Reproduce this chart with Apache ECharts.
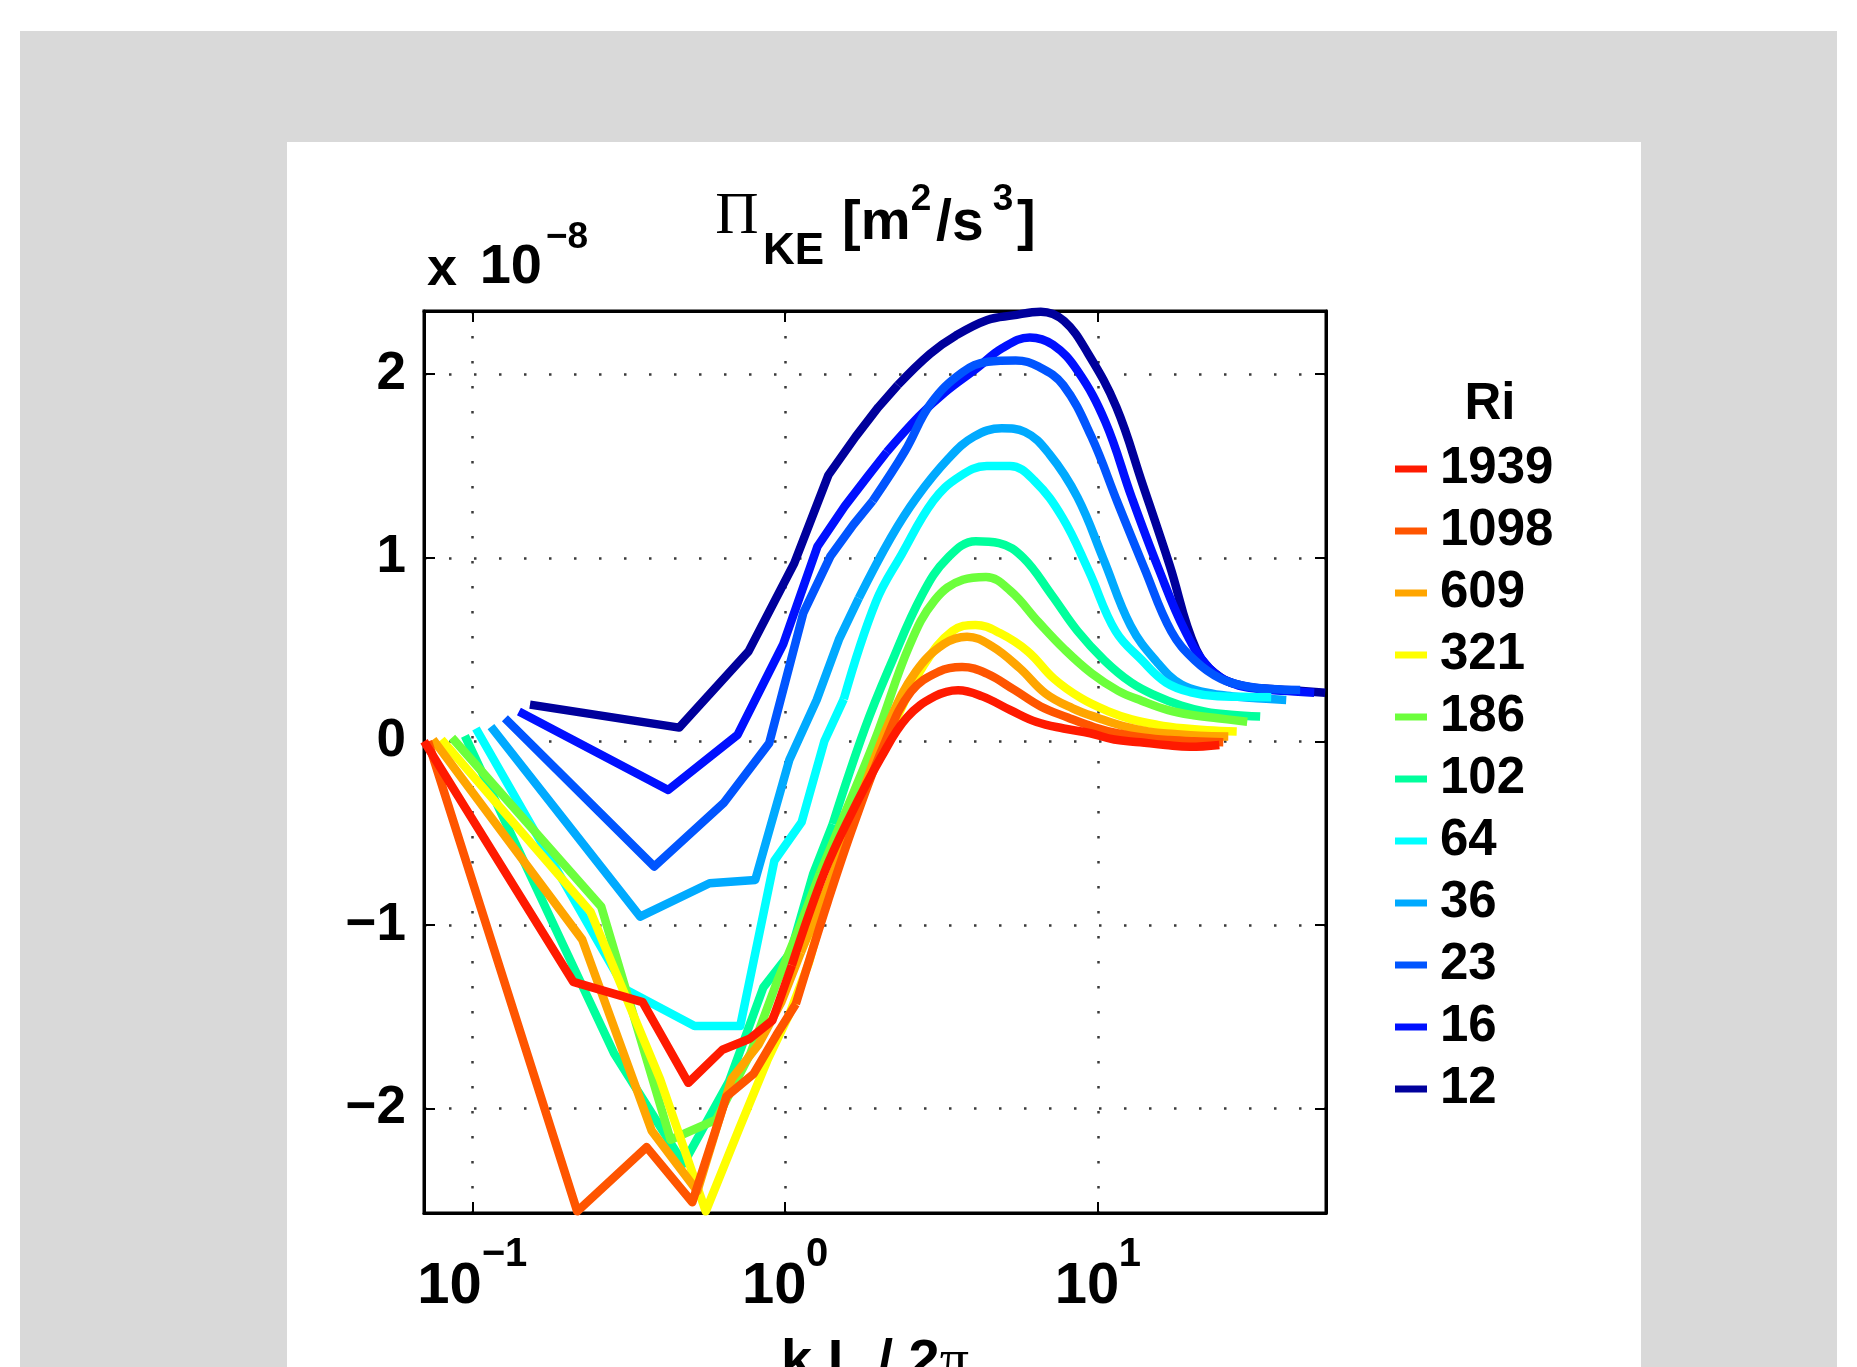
<!DOCTYPE html>
<html>
<head>
<meta charset="utf-8">
<script src="https://cdn.jsdelivr.net/npm/echarts@6/dist/echarts.min.js"></script>
<style>
  html, body { margin: 0; padding: 0; background: #fff; }
  #marco { position: absolute; left: 20px; top: 31px; width: 1817px; height: 1336px; background: #d9d9d9; }
  #hoja { position: absolute; left: 287px; top: 142px; width: 1354px; height: 1225px; background: #fff; }
  #grafica-pi-ke { position: absolute; left: 0; top: 0; width: 1857px; height: 1367px; }
</style>
</head>
<body>
<div id="marco"></div>
<div id="hoja"></div>
<div id="grafica-pi-ke"></div>
<script>
// Ri de cada corrida, en el orden de la leyenda
var etiquetasRi = ["1939", "1098", "609", "321", "186", "102", "64", "36", "23", "16", "12"];
var coloresRi = ["#ff1a00", "#ff5500", "#ffa500", "#ffff00", "#6cff3c", "#00ff9c",
                 "#00ffff", "#00aaff", "#0055ff", "#0010ff", "#00009c"];

// primer k L / 2pi de cada corrida y razones k / k1 comunes
var kInicial = [0.0700, 0.0721, 0.0748, 0.0796, 0.0860, 0.0946, 0.1026, 0.1146, 0.1270, 0.1408, 0.1527];
var razonK = [1, 3, 5, 7, 9, 11, 13, 15, 19, 23, 29, 35, 43, 51, 61, 75, 91, 111, 135, 161, 195, 235, 281, 349];

// Pi_KE en unidades de 1e-8 m^2/s^3
var pi1939 = [0, -1.31, -1.42, -1.86, -1.68, -1.62, -1.52, -1.22, -0.72, -0.41, -0.085, 0.13, 0.245, 0.278, 0.245, 0.17, 0.105, 0.07, 0.044, 0.01, -0.005, -0.02, -0.03, -0.02];
var pi1098 = [0, -2.56, -2.21, -2.51, -1.935, -1.81, -1.6, -1.43, -0.87, -0.45, 0.0, 0.27, 0.38, 0.405, 0.37, 0.28, 0.19, 0.13, 0.077, 0.043, 0.02, 0.007, 0.0, -0.005];
var pi609 = [0.01, -1.08, -2.12, -2.45, -1.84, -1.65, -1.42, -1.15, -0.72, -0.33, 0.12, 0.38, 0.53, 0.57, 0.52, 0.40, 0.26, 0.18, 0.125, 0.083, 0.053, 0.04, 0.03, 0.026];
var pi321 = [0.01, -0.93, -1.84, -2.56, -2.1, -1.74, -1.48, -1.2, -0.6, -0.22, 0.15, 0.42, 0.6, 0.634, 0.59, 0.49, 0.34, 0.235, 0.165, 0.12, 0.09, 0.071, 0.06, 0.053];
var pi186 = [0.02, -0.9, -2.17, -2.06, -1.7, -1.3, -1.0, -0.72, -0.3, 0.05, 0.52, 0.77, 0.88, 0.895, 0.82, 0.65, 0.5, 0.37, 0.275, 0.22, 0.17, 0.142, 0.126, 0.107];
var pi102 = [0.03, -1.7, -2.3, -1.85, -1.34, -1.15, -0.72, -0.45, 0.07, 0.42, 0.8, 1.0, 1.09, 1.08, 1.0, 0.8, 0.6, 0.44, 0.32, 0.25, 0.195, 0.16, 0.145, 0.135];
var pi64 = [0.07, -1.35, -1.55, -1.55, -0.65, -0.44, 0.0, 0.23, 0.76, 1.02, 1.31, 1.44, 1.5, 1.5, 1.42, 1.22, 0.93, 0.6, 0.44, 0.32, 0.265, 0.245, 0.243, 0.24];
var pi36 = [0.08, -0.955, -0.773, -0.755, -0.1, 0.225, 0.56, 0.78, 1.11, 1.33, 1.54, 1.66, 1.705, 1.685, 1.565, 1.33, 0.99, 0.63, 0.43, 0.31, 0.265, 0.245, 0.235, 0.225];
var pi23 = [0.126, -0.682, -0.337, -0.01, 0.7, 1.01, 1.18, 1.31, 1.58, 1.84, 2.01, 2.068, 2.075, 2.04, 1.94, 1.66, 1.3, 0.94, 0.6, 0.44, 0.34, 0.3, 0.285, 0.28];
var pi16 = [0.162, -0.265, 0.035, 0.53, 1.06, 1.28, 1.44, 1.576, 1.77, 1.9, 2.03, 2.14, 2.2, 2.16, 2.02, 1.74, 1.33, 0.94, 0.6, 0.4, 0.31, 0.285, 0.275, 0.265];
var pi12 = [0.2, 0.075, 0.49, 0.97, 1.45, 1.66, 1.82, 1.94, 2.11, 2.21, 2.295, 2.32, 2.34, 2.29, 2.11, 1.82, 1.4, 0.96, 0.5, 0.35, 0.3, 0.285, 0.277, 0.265];

var valoresRi = [pi1939, pi1098, pi609, pi321, pi186, pi102, pi64, pi36, pi23, pi16, pi12];

// punto donde termina el tramo quebrado de baja k
var corteSuave = 7;

var fuente = "'Liberation Sans', Arial, Helvetica, sans-serif";
var fuenteSerif = "'Liberation Serif', 'Times New Roman', serif";

document.addEventListener("DOMContentLoaded", function () {
  cargarGraficaPiKE();
});

// 10 con exponente: la fila de arriba lleva el exponente, la de abajo el 10
function etiquetaLog(v) {
  var e = Math.log(v) / Math.LN10;
  if (Math.abs(e - Math.round(e)) > 1e-6) return "";
  e = Math.round(e);
  if (e < 0) return "{e|\u2212" + -e + "}\n{bn|10}";
  return "{e|" + e + "}\n{bp|10}";
}

function etiquetaY(v) {
  if (Math.abs(v - Math.round(v)) > 1e-6) return "";
  var n = Math.round(v);
  return n < 0 ? "\u2212" + -n : String(n);
}

function textoFijo(texto, x, y, tam, alinear, familia, peso) {
  var font = (peso || "bold") + " " + tam + "px " + (familia || fuente);
  return {
    type: "text", x: x, y: y, silent: true,
    style: {
      text: texto, font: font, fill: "#000",
      align: alinear || "left", verticalAlign: "middle",
      textAlign: alinear || "left", textVerticalAlign: "middle"
    }
  };
}

function tramo(i, desde, hasta, suave) {
  var datos = [];
  for (var j = desde; j <= hasta; j++) {
    datos.push([kInicial[i] * razonK[j], valoresRi[i][j]]);
  }
  return {
    name: etiquetasRi[i],
    type: "line",
    data: datos,
    smooth: suave,
    symbol: "none",
    showSymbol: false,
    clip: true,
    silent: true,
    color: coloresRi[i],
    lineStyle: { color: coloresRi[i], width: 8.5, join: "round" },
    itemStyle: { color: coloresRi[i] }
  };
}

function cargarGraficaPiKE() {
  var chart = echarts.init(document.getElementById("grafica-pi-ke"));

  var series = [];
  for (var i = etiquetasRi.length - 1; i >= 0; i--) {
    series.push(tramo(i, 0, corteSuave, false));
    series.push(tramo(i, corteSuave, razonK.length - 1, 0.4));
  }

  var lineaEje = { show: true, onZero: false, lineStyle: { color: "#000", width: 3 } };
  var marcas = { show: true, inside: true, length: 11, lineStyle: { color: "#000", width: 2 } };
  var rejilla = { show: true, lineStyle: { color: "#3a3a3a", width: 2.5, type: [2.5, 22.5] } };
  var estiloBase = { fontFamily: fuente, fontWeight: "bold", fontSize: 58, lineHeight: 56, color: "#000" };

  var option = {
    animation: false,
    textStyle: { fontFamily: fuente },
    grid: {
      left: 424, top: 311, width: 902, height: 902,
      containLabel: false, outerBoundsMode: "none",
      show: true, borderColor: "#000", borderWidth: 3, backgroundColor: "#fff"
    },
    xAxis: [
      {
        type: "log", logBase: 10, min: 0.07, max: 53.6, position: "bottom",
        axisLine: lineaEje, axisTick: marcas, splitLine: rejilla,
        minorTick: { show: false }, minorSplitLine: { show: false },
        axisLabel: {
          margin: 38, formatter: etiquetaLog, color: "#000",
          rich: {
            bn: Object.assign({ padding: [0, 46, 0, 0] }, estiloBase),
            bp: Object.assign({ padding: [0, 22, 0, 0] }, estiloBase),
            e: { fontFamily: fuente, fontWeight: "bold", fontSize: 40, lineHeight: 8, padding: [0, 0, 0, 64], color: "#000" }
          }
        },
        name: "{a|k L / 2}{p|\u03c0}",
        nameLocation: "middle",
        nameGap: 122,
        nameTextStyle: {
          verticalAlign: "top",
          rich: {
            a: { fontFamily: fuente, fontWeight: "bold", fontSize: 56, lineHeight: 56, color: "#000" },
            p: { fontFamily: fuenteSerif, fontSize: 58, lineHeight: 56, color: "#000" }
          }
        }
      },
      {
        type: "log", logBase: 10, min: 0.07, max: 53.6, position: "top",
        axisLine: lineaEje, axisTick: marcas, splitLine: { show: false },
        minorTick: { show: false }, axisLabel: { show: false }
      }
    ],
    yAxis: [
      {
        type: "value", min: -2.569, max: 2.344, splitNumber: 5, position: "left",
        axisLine: lineaEje, axisTick: marcas, splitLine: rejilla,
        axisLabel: {
          margin: 18, formatter: etiquetaY, color: "#000",
          fontFamily: fuente, fontWeight: "bold", fontSize: 53
        }
      },
      {
        type: "value", min: -2.569, max: 2.344, splitNumber: 5, position: "right",
        axisLine: lineaEje, axisTick: marcas, splitLine: { show: false },
        axisLabel: { show: false }
      }
    ],
    legend: {
      orient: "vertical",
      left: 1390,
      top: 438,
      itemWidth: 32,
      itemHeight: 7,
      itemGap: 10,
      icon: "rect",
      selectedMode: false,
      data: etiquetasRi,
      textStyle: {
        fontFamily: fuente, fontWeight: "bold", fontSize: 51, color: "#000",
        lineHeight: 52, padding: [0, 0, 0, 8]
      }
    },
    graphic: [
      textoFijo("Ri", 1490, 405, 51, "center"),
      textoFijo("x", 427, 270, 54),
      textoFijo("10", 542, 268, 56, "right"),
      textoFijo("\u22128", 546, 238, 37),
      textoFijo("\u03a0", 737, 217, 60, "center", fuenteSerif, "normal"),
      textoFijo("KE", 763, 252, 44),
      textoFijo("[m", 842, 224, 56),
      textoFijo("2", 921, 200, 37, "center"),
      textoFijo("/", 936, 224, 57),
      textoFijo("s", 952, 224, 57),
      textoFijo("3", 1003, 200, 37, "center"),
      textoFijo("]", 1017, 224, 56)
    ],
    series: series
  };

  chart.setOption(option);
}
</script>
</body>
</html>
